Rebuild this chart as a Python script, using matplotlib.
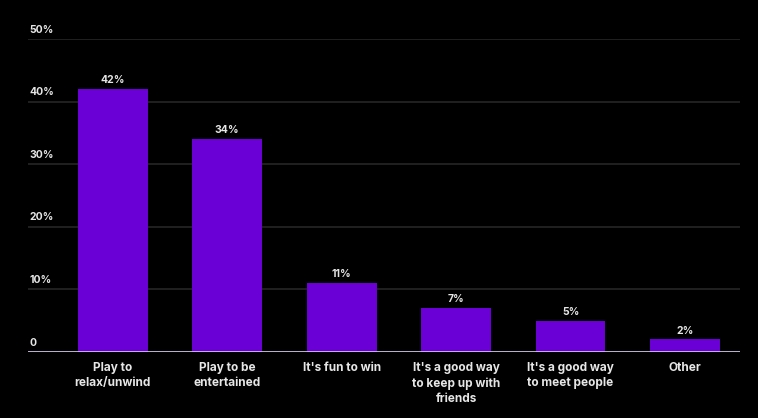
import matplotlib.pyplot as plt

# data
categories = ['Play to\nrelax/unwind', 'Play to be\nentertained', "It's fun to win",
              "It's a good way\nto keep up with\nfriends", "It's a good way\nto meet people", 'Other']
values = [42, 34, 11, 7, 5, 2]
y_ticks = [0, 10, 20, 30, 40, 50]
y_labels = ['0', '10%', '20%', '30%', '40%', '50%']

bar_color = '#6a00d6'
text_color = '#e6e6e6'
font = ['Inter', 'DejaVu Sans']

fig = plt.figure(figsize=(7.58, 4.18), dpi=100, facecolor='black')
ax = fig.add_axes([28 / 758, 1 - 352 / 418, (740 - 28) / 758, (352 - 39) / 418])
ax.set_facecolor('black')

x = range(len(categories))
ax.bar(x, values, width=0.61, color=bar_color, zorder=2)

xmin, xmax = -0.74, 5.48
ax.set_xlim(xmin, xmax)
ax.set_ylim(0, 50)

# gridlines and y labels sitting above them
for t, lab in zip(y_ticks, y_labels):
    if t > 0:
        ax.axhline(t, color='#262626', lw=1.2, zorder=1)
    ax.text(xmin + 0.01, t + 0.7, lab, color=text_color, fontsize=7.5,
            fontweight='bold', family=font, ha='left', va='bottom')
ax.axhline(0, color='#cfc3e6', lw=2, zorder=3)

# value labels
for i, v in enumerate(values):
    ax.text(i, v + 0.6, f'{v}%', color=text_color, fontsize=7.5, fontweight='bold',
            family=font, ha='center', va='bottom')

# category labels
for i, c in enumerate(categories):
    ax.text(i, -1.6, c, color=text_color, fontsize=8.5, fontweight='bold', family=font,
            ha='center', va='top', linespacing=1.35)

ax.set_xticks([])
ax.set_yticks([])
for s in ax.spines.values():
    s.set_visible(False)

fig.savefig('out.png', dpi=100, facecolor='black')
